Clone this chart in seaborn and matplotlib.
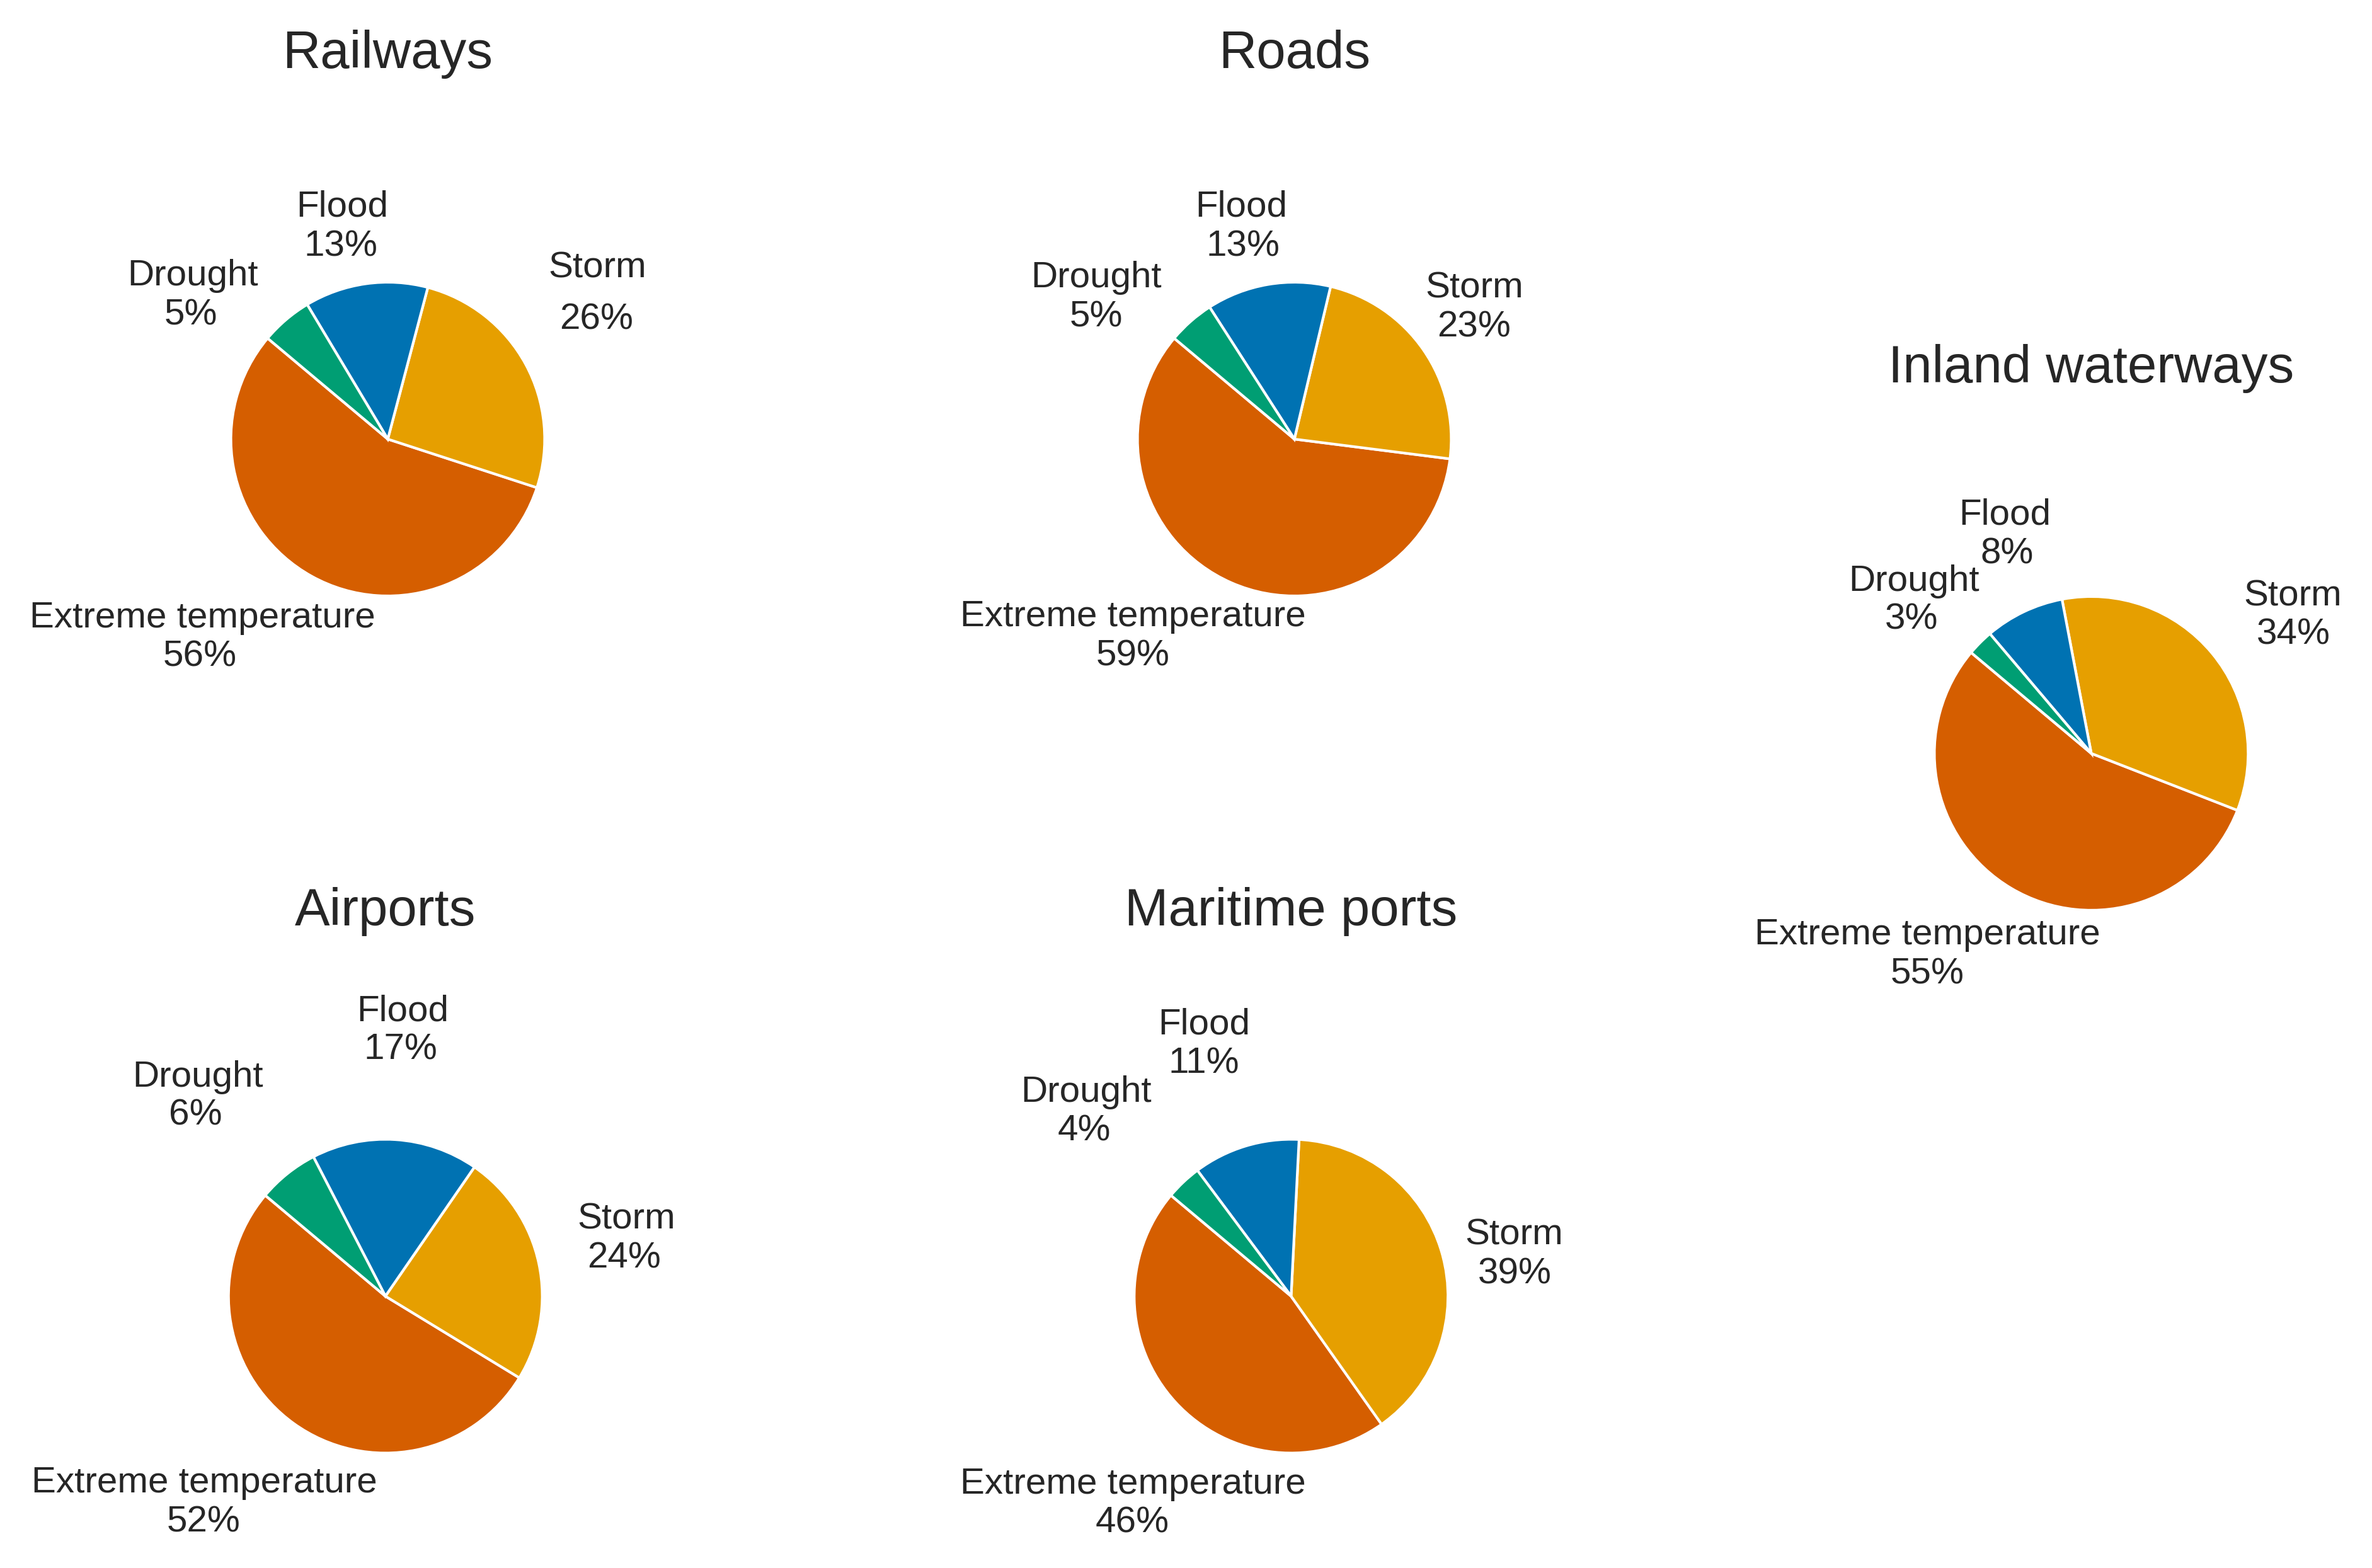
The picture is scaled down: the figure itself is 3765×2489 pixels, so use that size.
import matplotlib
matplotlib.use("Agg")
import matplotlib.pyplot as plt
import seaborn as sns

# ---------------- data ----------------
categories = ["Extreme temperature", "Storm", "Flood", "Drought"]
modes = ["Railways", "Roads", "Inland waterways", "Airports", "Maritime ports"]

railways = [56.1, 25.9, 12.7, 5.3]
roads = [59.1, 23.3, 12.8, 4.8]
inland_waterways = [55.2, 33.9, 8.2, 2.7]
airports = [52.4, 24.1, 17.2, 6.3]
maritime_ports = [45.9, 39.4, 11.0, 3.7]

colors = ["#D55E00", "#E69F00", "#0072B2", "#009E73"]

values = {
    "Railways": railways,
    "Roads": roads,
    "Inland waterways": inland_waterways,
    "Airports": airports,
    "Maritime ports": maritime_ports,
}

# ---------------- layout (pixels / radius units) ----------------
W, H, DPI = 3765, 2489, 300
R = 249.0   # pie radius in pixels
L = 1.3     # half-size of the axes box in radius units

centers = {
    "Railways": (615.5, 697.0),
    "Roads": (2054.5, 697.0),
    "Inland waterways": (3319.4, 1195.9),
    "Airports": (611.7, 2057.5),
    "Maritime ports": (2049.3, 2057.5),
}

# (name_x, name_y, pct_x, pct_y) per category, in radius units (baseline anchored)
label_pos = {
    "Railways": [(-1.182, -1.200, -1.196, -1.447),
                 (1.338, 1.030, 1.331, 0.700),
                 (-0.290, 1.418, -0.298, 1.168),
                 (-1.241, 0.980, -1.254, 0.727)],
    "Roads": [(-1.030, -1.192, -1.030, -1.442),
              (1.148, 0.903, 1.146, 0.653),
              (-0.337, 1.418, -0.329, 1.168),
              (-1.261, 0.968, -1.265, 0.718)],
    "Inland waterways": [(-1.046, -1.216, -1.043, -1.469),
                         (1.283, 0.943, 1.289, 0.698),
                         (-0.549, 1.458, -0.539, 1.210),
                         (-1.128, 1.036, -1.146, 0.791)],
    "Airports": [(-1.152, -1.253, -1.159, -1.501),
                 (1.537, 0.431, 1.522, 0.180),
                 (0.109, 1.754, 0.099, 1.510),
                 (-1.194, 1.337, -1.210, 1.093)],
    "Maritime ports": [(-1.009, -1.259, -1.014, -1.507),
                       (1.422, 0.329, 1.425, 0.082),
                       (-0.556, 1.670, -0.556, 1.422),
                       (-1.306, 1.239, -1.320, 0.991)],
}
title_y = 2.365

# ---------------- style ----------------
sns.set_theme(style="white")
plt.rcParams["font.family"] = ["Liberation Sans", "DejaVu Sans"]
text_color = "#262626"
palette = sns.color_palette(colors)

fig = plt.figure(figsize=(W / DPI, H / DPI), dpi=DPI, facecolor="white")

for mode in modes:
    cx, cy = centers[mode]
    ax = fig.add_axes([(cx - L * R) / W, (H - cy - L * R) / H,
                       2 * L * R / W, 2 * L * R / H])
    wedges, texts, autotexts = ax.pie(
        values[mode],
        labels=categories,
        colors=palette,
        startangle=140,
        counterclock=True,
        autopct="%1.0f%%",
        wedgeprops=dict(edgecolor="white", linewidth=1.0),
        textprops=dict(fontsize=14, color=text_color),
    )
    for i, (t, a) in enumerate(zip(texts, autotexts)):
        nx, ny, px, py = label_pos[mode][i]
        t.set_position((nx, ny))
        t.set_horizontalalignment("center")
        t.set_verticalalignment("baseline")
        a.set_position((px, py))
        a.set_horizontalalignment("center")
        a.set_verticalalignment("baseline")
        a.set_color(text_color)
        a.set_fontsize(14)
    ax.set_xlim(-L, L)
    ax.set_ylim(-L, L)
    ax.set_aspect("equal")
    ax.axis("off")
    ax.text(0, title_y, mode, ha="center", va="baseline", fontsize=20,
            color=text_color, clip_on=False)

fig.savefig("out.png", dpi=DPI, facecolor="white")
